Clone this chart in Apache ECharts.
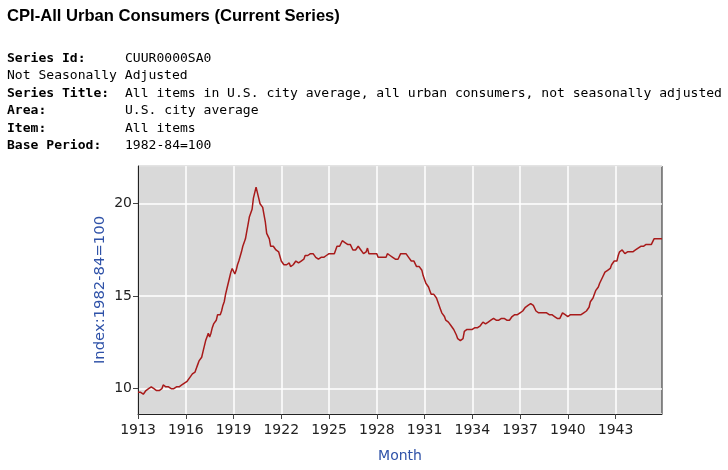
<!DOCTYPE html>
<html>
<head>
<meta charset="utf-8">
<script src="https://cdn.jsdelivr.net/npm/echarts@6/dist/echarts.min.js"></script>
<style>
html,body{margin:0;padding:0;background:#fff;}
#chart{width:728px;height:470px;}
</style>
</head>
<body>
<div id="chart"></div>
<script>
const titleText = 'CPI-All Urban Consumers (Current Series)';
const infoLines = [
  ['Series Id:', 'CUUR0000SA0', true],
  ['Not Seasonally Adjusted', '', false],
  ['Series Title:', 'All items in U.S. city average, all urban consumers, not seasonally adjusted', true],
  ['Area:', 'U.S. city average', true],
  ['Item:', 'All items', true],
  ['Base Period:', '1982-84=100', true]
];
const years = [];
for (let y = 1913; y <= 1945; y++) years.push(y);
const cpi1913 = [9.8, 9.8, 9.8, 9.8, 9.7, 9.8, 9.9, 9.9, 10.0, 10.0, 10.1, 10.0];
const cpi1914 = [10.0, 9.9, 9.9, 9.8, 9.9, 9.9, 10.0, 10.2, 10.2, 10.1, 10.2, 10.1];
const cpi1915 = [10.1, 10.0, 9.9, 10.0, 10.1, 10.1, 10.1, 10.1, 10.1, 10.2, 10.3, 10.3];
const cpi1916 = [10.4, 10.4, 10.5, 10.6, 10.7, 10.8, 10.8, 10.9, 11.1, 11.3, 11.5, 11.6];
const cpi1917 = [11.7, 12.0, 12.0, 12.6, 12.8, 13.0, 12.8, 13.0, 13.3, 13.5, 13.5, 13.7];
const cpi1918 = [14.0, 14.1, 14.0, 14.2, 14.5, 14.7, 15.1, 15.4, 15.7, 16.0, 16.3, 16.5];
const cpi1919 = [16.5, 16.2, 16.4, 16.7, 16.9, 16.9, 17.4, 17.7, 17.8, 18.1, 18.5, 18.9];
const cpi1920 = [19.3, 19.5, 19.7, 20.3, 20.6, 20.9, 20.8, 20.3, 20.0, 19.9, 19.8, 19.4];
const cpi1921 = [19.0, 18.4, 18.3, 18.1, 17.7, 17.6, 17.7, 17.7, 17.5, 17.5, 17.4, 17.3];
const cpi1922 = [16.9, 16.9, 16.7, 16.7, 16.7, 16.7, 16.8, 16.6, 16.6, 16.7, 16.8, 16.9];
const cpi1923 = [16.8, 16.8, 16.8, 16.9, 16.9, 17.0, 17.2, 17.1, 17.2, 17.3, 17.3, 17.3];
const cpi1924 = [17.3, 17.2, 17.1, 17.0, 17.0, 17.0, 17.1, 17.0, 17.1, 17.2, 17.2, 17.3];
const cpi1925 = [17.3, 17.2, 17.3, 17.2, 17.3, 17.5, 17.7, 17.7, 17.7, 17.7, 18.0, 17.9];
const cpi1926 = [17.9, 17.9, 17.8, 17.9, 17.8, 17.7, 17.5, 17.4, 17.5, 17.6, 17.7, 17.7];
const cpi1927 = [17.5, 17.4, 17.3, 17.3, 17.4, 17.6, 17.3, 17.2, 17.3, 17.4, 17.3, 17.3];
const cpi1928 = [17.3, 17.1, 17.1, 17.1, 17.2, 17.1, 17.1, 17.1, 17.3, 17.2, 17.2, 17.1];
const cpi1929 = [17.1, 17.1, 17.0, 16.9, 17.0, 17.1, 17.3, 17.3, 17.3, 17.3, 17.3, 17.2];
const cpi1930 = [17.1, 17.0, 16.9, 17.0, 16.9, 16.8, 16.6, 16.5, 16.6, 16.5, 16.4, 16.1];
const cpi1931 = [15.9, 15.7, 15.6, 15.5, 15.3, 15.1, 15.1, 15.1, 15.0, 14.9, 14.7, 14.6];
const cpi1932 = [14.3, 14.1, 14.0, 13.9, 13.7, 13.6, 13.6, 13.5, 13.4, 13.3, 13.2, 13.1];
const cpi1933 = [12.9, 12.7, 12.6, 12.6, 12.6, 12.7, 13.1, 13.2, 13.2, 13.2, 13.2, 13.2];
const cpi1934 = [13.2, 13.3, 13.3, 13.3, 13.3, 13.4, 13.4, 13.4, 13.6, 13.5, 13.5, 13.4];
const cpi1935 = [13.6, 13.7, 13.7, 13.8, 13.8, 13.7, 13.7, 13.7, 13.7, 13.7, 13.8, 13.8];
const cpi1936 = [13.8, 13.8, 13.7, 13.7, 13.7, 13.8, 13.9, 14.0, 14.0, 14.0, 14.0, 14.0];
const cpi1937 = [14.1, 14.1, 14.2, 14.3, 14.4, 14.4, 14.5, 14.5, 14.6, 14.6, 14.5, 14.4];
const cpi1938 = [14.2, 14.1, 14.1, 14.2, 14.1, 14.1, 14.1, 14.1, 14.1, 14.0, 14.0, 14.0];
const cpi1939 = [14.0, 13.9, 13.9, 13.8, 13.8, 13.8, 13.8, 13.8, 14.1, 14.0, 14.0, 14.0];
const cpi1940 = [13.9, 14.0, 14.0, 14.0, 14.0, 14.1, 14.0, 14.0, 14.0, 14.0, 14.0, 14.1];
const cpi1941 = [14.1, 14.1, 14.2, 14.3, 14.4, 14.7, 14.7, 14.9, 15.1, 15.3, 15.4, 15.5];
const cpi1942 = [15.7, 15.8, 16.0, 16.1, 16.3, 16.3, 16.4, 16.5, 16.5, 16.7, 16.8, 16.9];
const cpi1943 = [16.9, 16.9, 17.2, 17.4, 17.5, 17.5, 17.4, 17.3, 17.4, 17.4, 17.4, 17.4];
const cpi1944 = [17.4, 17.4, 17.4, 17.5, 17.5, 17.6, 17.7, 17.7, 17.7, 17.7, 17.7, 17.8];
const cpi1945 = [17.8, 17.8, 17.8, 17.8, 17.9, 18.1, 18.1, 18.1, 18.1, 18.1, 18.1, 18.1];
const yearlyValues = [cpi1913, cpi1914, cpi1915, cpi1916, cpi1917, cpi1918, cpi1919, cpi1920,
  cpi1921, cpi1922, cpi1923, cpi1924, cpi1925, cpi1926, cpi1927, cpi1928, cpi1929, cpi1930,
  cpi1931, cpi1932, cpi1933, cpi1934, cpi1935, cpi1936, cpi1937, cpi1938, cpi1939, cpi1940,
  cpi1941, cpi1942, cpi1943, cpi1944, cpi1945];
const tickYears = ['1913','1916','1919','1922','1925','1928','1931','1934','1937','1940','1943'];
const yAxisName = 'Index:1982-84=100';
const xAxisName = 'Month';

const months = [];
const values = [];
years.forEach((y, i) => {
  yearlyValues[i].forEach((v, m) => {
    months.push(y + '-' + String(m + 1).padStart(2, '0'));
    values.push(v);
  });
});

const mono = '"DejaVu Sans Mono", "Liberation Mono", monospace';
const graphics = [{
  type: 'text', left: 7, top: 8,
  style: { text: titleText, font: 'bold 16.6px "Liberation Sans", Arial, sans-serif', fill: '#000' }
}];
infoLines.forEach((ln, i) => {
  const y = 52 + i * 17.5;
  graphics.push({
    type: 'text', x: 7, y: y,
    style: { text: ln[0], font: (ln[2] ? 'bold ' : '') + '13.05px ' + mono, fill: '#000' }
  });
  if (ln[1]) {
    graphics.push({
      type: 'text', x: 125, y: y,
      style: { text: ln[1], font: '13.05px ' + mono, fill: '#000' }
    });
  }
});

const chart = echarts.init(document.getElementById('chart'));
chart.setOption({
  animation: false,
  backgroundColor: '#fff',
  graphic: graphics,
  grid: {
    left: 138, top: 166, right: 66, bottom: 56,
    show: true, backgroundColor: '#d9d9d9', borderColor: '#222', borderWidth: 1
  },
  xAxis: {
    type: 'category',
    data: months,
    boundaryGap: false,
    name: xAxisName,
    nameLocation: 'middle',
    nameGap: 35,
    nameMoveOverlap: false,
    nameTextStyle: { color: '#2f52a8', fontSize: 14, fontFamily: 'DejaVu Sans' },
    axisLine: { lineStyle: { color: '#222', width: 1 } },
    axisTick: { show: true, length: 5, interval: 35, lineStyle: { color: '#444' } },
    axisLabel: {
      interval: 35, margin: 9, color: '#222', fontSize: 14, fontFamily: 'DejaVu Sans',
      formatter: (v) => tickYears.indexOf(v.slice(0, 4)) >= 0 ? v.slice(0, 4) : ''
    },
    splitLine: { show: true, interval: 35, lineStyle: { color: '#fff', width: 1.5 } }
  },
  yAxis: {
    type: 'value',
    min: 8.63, max: 22.04,
    splitNumber: 2,
    name: yAxisName,
    nameLocation: 'middle',
    nameGap: 30,
    nameMoveOverlap: false,
    nameTextStyle: { color: '#2f52a8', fontSize: 14.8, fontFamily: 'DejaVu Sans' },
    axisLine: { show: true, lineStyle: { color: '#222', width: 1 } },
    axisTick: { show: true, length: 5, lineStyle: { color: '#444' } },
    axisLabel: { margin: 6, color: '#222', fontSize: 14, fontFamily: 'DejaVu Sans',
      showMinLabel: false, showMaxLabel: false,
      formatter: (v) => (Math.abs(v % 5) < 1e-6 ? String(v) : '') },
    splitLine: { show: true, lineStyle: { color: '#fff', width: 1.5 } }
  },
  series: [{
    type: 'line',
    data: values,
    showSymbol: false,
    lineStyle: { color: '#a81a1a', width: 1.5 },
    silent: true
  }]
});
</script>
</body>
</html>
